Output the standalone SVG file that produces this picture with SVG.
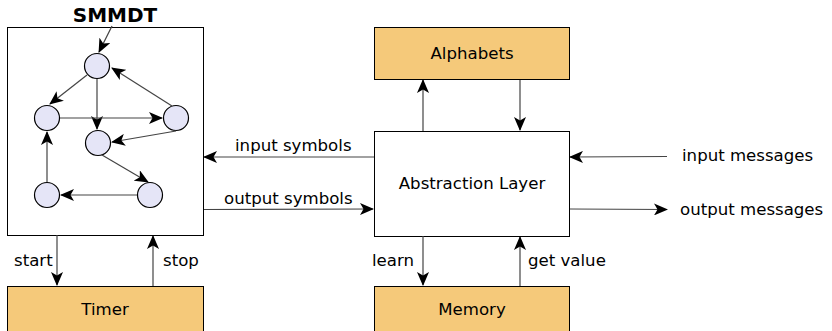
<svg xmlns="http://www.w3.org/2000/svg" width="832" height="331" viewBox="0 0 832 331">
<defs>
<marker id="ah" viewBox="0 0 14 12" refX="13" refY="6" markerWidth="14" markerHeight="12" markerUnits="userSpaceOnUse" orient="auto">
<path d="M0,0 L14,6 L0,12 L3.5,6 z" fill="#000"/>
</marker>
<style>
.box{fill:#fff;stroke:#000;stroke-width:1}
.org{fill:#f5c97a;stroke:#000;stroke-width:1}
.st{fill:#e5e5f7;stroke:#000;stroke-width:1.2}
.c{stroke:#444;stroke-width:1.2;fill:none;marker-end:url(#ah)}
text{font-family:"DejaVu Sans",sans-serif;font-size:16.6px;fill:#000}
.ttl{font-weight:bold;font-size:20px}
.mid{text-anchor:middle}
</style>
</defs>
<g id="smmdt">
<rect class="box" x="7.5" y="27.5" width="196" height="208"/>
<text class="ttl mid" x="115" y="22">SMMDT</text>
</g>
<g id="s1"><circle class="st" cx="97" cy="66" r="12.5"/></g>
<g id="s2"><circle class="st" cx="47" cy="118" r="12.5"/></g>
<g id="s3"><circle class="st" cx="176" cy="118" r="12.5"/></g>
<g id="s4"><circle class="st" cx="98" cy="143" r="12.5"/></g>
<g id="s5"><circle class="st" cx="47" cy="195" r="12.5"/></g>
<g id="s6"><circle class="st" cx="150" cy="195" r="12.5"/></g>
<g id="alphabets"><rect class="org" x="374.5" y="27.5" width="195" height="52"/><text class="mid" x="472" y="59">Alphabets</text></g>
<g id="abstraction"><rect class="box" x="374.5" y="131.5" width="195" height="105"/><text class="mid" x="472" y="189">Abstraction Layer</text></g>
<g id="timer"><rect class="org" x="7.5" y="286.5" width="196" height="50"/><text class="mid" x="105" y="315">Timer</text></g>
<g id="memory"><rect class="org" x="374.5" y="286.5" width="195" height="50"/><text class="mid" x="472" y="315">Memory</text></g>
<g id="connectors">
<path class="c" d="M112,26 L99,52"/>
<path class="c" d="M87,75 L50,104"/>
<path class="c" d="M97,79 L97,129"/>
<path class="c" d="M60,118 L162,118"/>
<path class="c" d="M172,106 L112,68"/>
<path class="c" d="M176,131 L112,142"/>
<path class="c" d="M102,155 L148,182"/>
<path class="c" d="M137,195 L61,195"/>
<path class="c" d="M47,182 L47,132"/>
<path class="c" d="M374,157 L204,157"/>
<path class="c" d="M204,209.5 L373,209"/>
<path class="c" d="M423,131 L423,80"/>
<path class="c" d="M520,80 L520,130"/>
<path class="c" d="M667,156.5 L570,157"/>
<path class="c" d="M570,209 L667,209.5"/>
<path class="c" d="M423,236 L423,285"/>
<path class="c" d="M520,286 L520,237"/>
<path class="c" d="M57,235 L57,285"/>
<path class="c" d="M153,286 L153,236"/>
<text x="235" y="151">input symbols</text>
<text x="224" y="204">output symbols</text>
<text x="682" y="161">input messages</text>
<text x="680" y="215">output messages</text>
<text x="372" y="266">learn</text>
<text x="528" y="266">get value</text>
<text x="14" y="266">start</text>
<text x="163" y="266">stop</text>
</g>
</svg>
